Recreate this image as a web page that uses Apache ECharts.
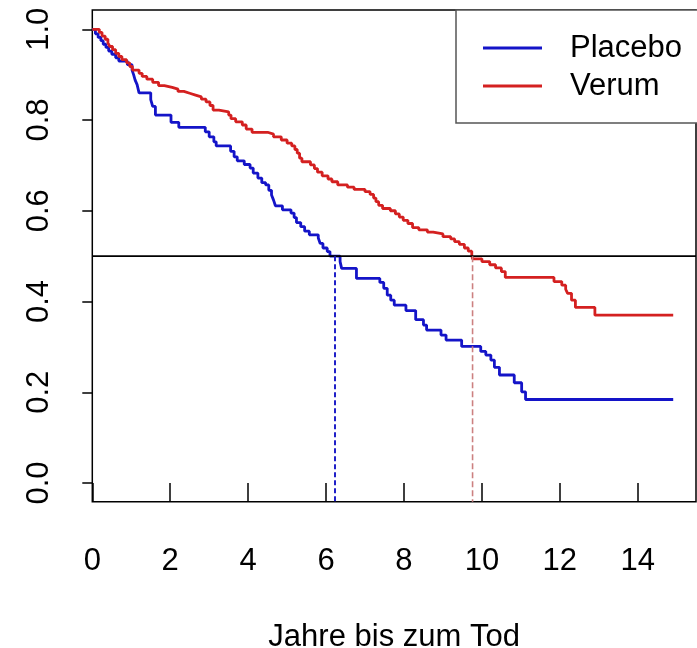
<!DOCTYPE html>
<html>
<head>
<meta charset="utf-8">
<script src="https://cdn.jsdelivr.net/npm/echarts@6/dist/echarts.min.js"></script>
<style>
html,body{margin:0;padding:0;background:#fff;}
#chart{width:697px;height:648px;}
</style>
</head>
<body>
<div id="chart"></div>
<script>
// ---- data ----
const seriesNames = ['Placebo', 'Verum'];
const placeboTimes = [0, 0.08, 0.15, 0.22, 0.28, 0.35, 0.42, 0.50, 0.60, 0.68, 0.90, 1.02, 1.06, 1.10, 1.15, 1.20, 1.50, 1.55, 1.62, 2.02, 2.22, 2.90, 3.00, 3.12, 3.18, 3.55, 3.64, 3.72, 3.90, 4.05, 4.13, 4.25, 4.35, 4.45, 4.53, 4.60, 4.65, 4.70, 4.88, 5.10, 5.18, 5.24, 5.35, 5.45, 5.57, 5.80, 5.85, 5.92, 6.03, 6.10, 6.36, 6.40, 6.78, 7.38, 7.48, 7.57, 7.66, 7.75, 8.05, 8.30, 8.50, 8.58, 8.95, 9.08, 9.48, 9.97, 10.10, 10.23, 10.32, 10.45, 10.83, 11.02, 11.12, 14.91];
const placeboSurv = [1.0, 0.99, 0.982, 0.975, 0.967, 0.96, 0.952, 0.945, 0.937, 0.93, 0.922, 0.91, 0.90, 0.888, 0.878, 0.86, 0.845, 0.83, 0.811, 0.795, 0.784, 0.774, 0.763, 0.752, 0.743, 0.731, 0.719, 0.71, 0.702, 0.694, 0.683, 0.672, 0.662, 0.657, 0.645, 0.635, 0.624, 0.611, 0.602, 0.595, 0.585, 0.574, 0.565, 0.555, 0.547, 0.54, 0.528, 0.518, 0.51, 0.50, 0.488, 0.473, 0.451, 0.442, 0.429, 0.414, 0.403, 0.392, 0.38, 0.36, 0.348, 0.337, 0.326, 0.315, 0.301, 0.29, 0.282, 0.271, 0.255, 0.238, 0.221, 0.201, 0.184, 0.184];
const verumTimes = [0, 0.18, 0.25, 0.33, 0.40, 0.45, 0.52, 0.60, 0.68, 0.76, 0.88, 0.96, 1.03, 1.20, 1.28, 1.40, 1.55, 1.70, 1.85, 2.05, 2.20, 2.35, 2.50, 2.65, 2.80, 2.92, 3.02, 3.10, 3.25, 3.50, 3.56, 3.68, 3.85, 3.95, 4.10, 4.50, 4.65, 4.85, 5.00, 5.12, 5.20, 5.26, 5.32, 5.38, 5.60, 5.70, 5.78, 5.90, 6.05, 6.15, 6.30, 6.55, 6.72, 7.00, 7.13, 7.22, 7.28, 7.35, 7.45, 7.65, 7.78, 7.88, 7.98, 8.10, 8.22, 8.38, 8.60, 8.75, 9.00, 9.20, 9.30, 9.42, 9.55, 9.65, 9.74, 9.76, 10.00, 10.20, 10.35, 10.50, 10.60, 11.85, 12.05, 12.15, 12.20, 12.30, 12.40, 12.90, 14.91];
const verumSurv = [1.0, 0.993, 0.985, 0.978, 0.97, 0.962, 0.955, 0.947, 0.94, 0.933, 0.926, 0.918, 0.91, 0.903, 0.896, 0.89, 0.883, 0.876, 0.872, 0.868, 0.863, 0.859, 0.855, 0.851, 0.846, 0.84, 0.832, 0.822, 0.818, 0.811, 0.803, 0.796, 0.789, 0.78, 0.773, 0.769, 0.763, 0.756, 0.749, 0.743, 0.735, 0.727, 0.716, 0.708, 0.701, 0.693, 0.685, 0.677, 0.67, 0.664, 0.657, 0.652, 0.647, 0.642, 0.636, 0.628, 0.62, 0.612, 0.605, 0.6, 0.593, 0.586, 0.579, 0.572, 0.563, 0.558, 0.553, 0.549, 0.543, 0.538, 0.532, 0.526, 0.518, 0.511, 0.502, 0.494, 0.488, 0.481, 0.474, 0.466, 0.453, 0.444, 0.436, 0.427, 0.418, 0.403, 0.387, 0.37, 0.37];
const medianLevel = 0.5;
const medianPlacebo = 6.23;
const medianVerum = 9.76;
const xTickValues = [0, 2, 4, 6, 8, 10, 12, 14];
const xTickLabels = ['0', '2', '4', '6', '8', '10', '12', '14'];
const yTickValues = [0, 0.2, 0.4, 0.6, 0.8, 1.0];
const yTickLabels = ['0.0', '0.2', '0.4', '0.6', '0.8', '1.0'];
const xLabel = 'Jahre bis zum Tod';
const xRange = [0, 15.495];
const yRange = [-0.0412, 1.0425];

// ---- build ----
const FONT = "'Liberation Sans', Arial, sans-serif";
const zip = (a, b) => a.map((v, i) => [v, b[i]]);
const lookup = (vals, labels) => (v) => {
  const i = vals.findIndex(x => Math.abs(x - v) < 1e-9);
  return i >= 0 ? labels[i] : '';
};
const BLUE = '#1414c8';
const RED = '#d42020';

const chart = echarts.init(document.getElementById('chart'), null, {renderer: 'canvas'});
chart.setOption({
  animation: false,
  backgroundColor: '#ffffff',
  textStyle: {fontFamily: FONT},
  grid: {left: 92.3, top: 10, right: 1, bottom: 146.3, outerBoundsMode: 'none', containLabel: false, show: true, borderColor: '#000', borderWidth: 1.5, backgroundColor: 'transparent'},
  legend: {
    data: seriesNames,
    orient: 'vertical',
    left: 456, top: 10,
    padding: [19, 40, 18, 27],
    itemWidth: 59, itemHeight: 3, itemGap: 0,
    icon: 'rect',
    selectedMode: false,
    borderColor: '#555', borderWidth: 1.5, backgroundColor: '#fff',
    textStyle: {fontSize: 31, fontFamily: FONT, color: '#000', lineHeight: 38, padding: [0, 0, 0, 23]}
  },
  xAxis: {
    type: 'value', min: xRange[0], max: xRange[1],
    splitLine: {show: false},
    axisLine: {show: false},
    axisTick: {show: true, customValues: xTickValues, length: 18, lineStyle: {color: '#000', width: 1.5}},
    axisLabel: {customValues: xTickValues, formatter: lookup(xTickValues, xTickLabels), fontSize: 31, color: '#000', fontFamily: FONT, margin: 44},
    name: xLabel, nameLocation: 'middle', nameGap: 120,
    nameTextStyle: {fontSize: 31, color: '#000', fontFamily: FONT}
  },
  yAxis: {
    type: 'value', min: yRange[0], max: yRange[1],
    splitLine: {show: false},
    axisLine: {show: false},
    axisTick: {show: true, customValues: yTickValues, length: 10, lineStyle: {color: '#000', width: 1.5}},
    axisLabel: {customValues: yTickValues, formatter: lookup(yTickValues, yTickLabels), fontSize: 31, color: '#000', fontFamily: FONT, rotate: 90, align: 'center', verticalAlign: 'middle', margin: 53}
  },
  series: [
    {name: seriesNames[0], type: 'line', step: 'end', data: zip(placeboTimes, placeboSurv), symbol: 'none', color: BLUE, lineStyle: {color: BLUE, width: 2.8}, z: 2},
    {name: seriesNames[1], type: 'line', step: 'end', data: zip(verumTimes, verumSurv), symbol: 'none', color: RED, lineStyle: {color: RED, width: 2.8}, z: 3},
    {name: 'h', type: 'line', data: [[xRange[0], medianLevel], [xRange[1], medianLevel]], symbol: 'none', lineStyle: {color: '#000', width: 1.8}, z: 4, silent: true},
    {name: 'mp', type: 'line', data: [[medianPlacebo, medianLevel], [medianPlacebo, yRange[0]]], symbol: 'none', lineStyle: {color: '#2020c8', width: 2, type: [5, 3]}, z: 4, silent: true},
    {name: 'mv', type: 'line', data: [[medianVerum, medianLevel], [medianVerum, yRange[0]]], symbol: 'none', lineStyle: {color: '#cc8080', width: 1.6, type: [6, 3]}, z: 4, silent: true}
  ]
});
</script>
</body>
</html>
